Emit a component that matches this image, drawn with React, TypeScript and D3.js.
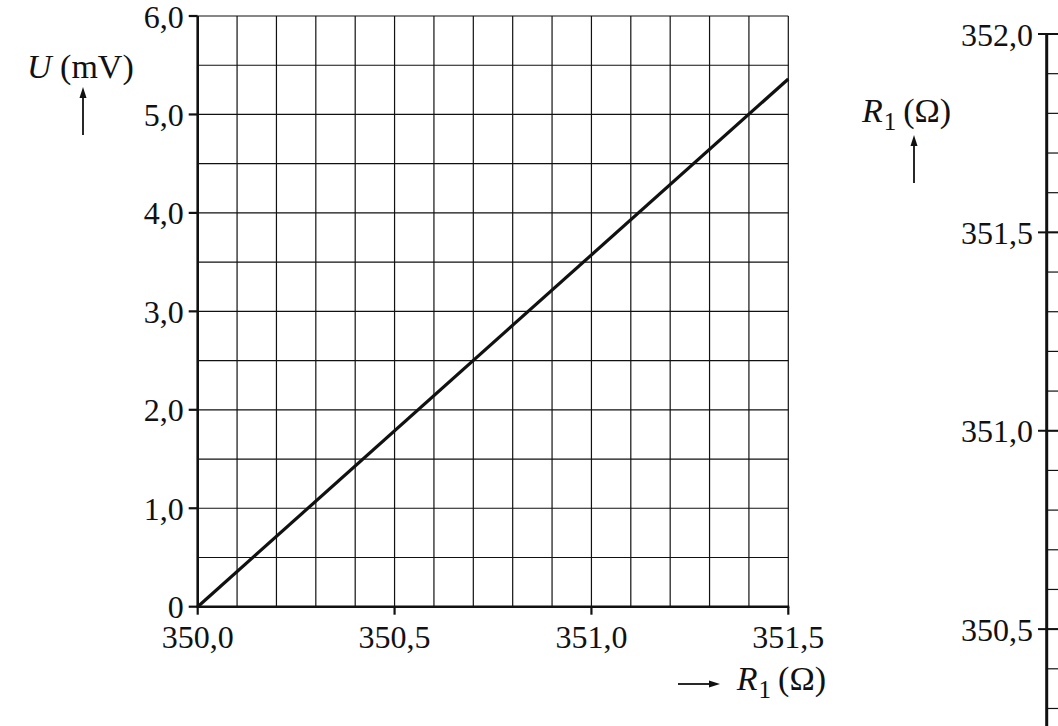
import React from 'react'
import * as d3 from 'd3'

// R1 (Ω) against U (mV): a straight calibration line
const resistance = [350.0, 351.5]
const voltage = [0, 5.36]

const xTicks = [350.0, 350.5, 351.0, 351.5]
const yTicks = [0, 1.0, 2.0, 3.0, 4.0, 5.0, 6.0]
const rightMajor = [350.5, 351.0, 351.5, 352.0]

const font = '"Liberation Serif", "Times New Roman", serif'
const fs = 32
const titleFs = 34
const comma = (v: number) => (v === 0 ? '0' : d3.format('.1f')(v).replace('.', ','))

const Arrow = ({ x1, y1, x2, y2 }: any) => {
    const a = Math.atan2(y2 - y1, x2 - x1)
    const len = 11, w = 3.5
    const bx = x2 - len * Math.cos(a), by = y2 - len * Math.sin(a)
    const px = -Math.sin(a) * w, py = Math.cos(a) * w
    return <g>
        <line x1={x1} y1={y1} x2={bx} y2={by} stroke="#111" strokeWidth={1.8} />
        <path d={`M${x2},${y2}L${bx + px},${by + py}L${bx - px},${by - py}Z`} fill="#111" />
    </g>
}

// R with subscript 1 and the unit
const R1 = ({ x, y, anchor }: any) =>
    <text x={x} y={y} textAnchor={anchor} fontSize={titleFs}>
        <tspan fontStyle="italic">R</tspan>
        <tspan fontSize={25} dx={1} dy={8}>1</tspan>
        <tspan dx={7} dy={-8}>(Ω)</tspan>
    </text>

export default function App() {
    const width = 1058, height = 726

    const x = d3.scaleLinear([350, 351.5], [197.7, 788.3])
    const y = d3.scaleLinear([0, 6], [606.7, 16])
    // right hand scale, runs on below the picture
    const r = d3.scaleLinear([350, 352], [827.5, 34])

    const vGrid = d3.range(0, 16).map(i => 350 + i * 0.1)
    const hGrid = d3.range(0, 13).map(i => i * 0.5)
    const rightMinor = d3.range(0, 21).map(i => 350 + i * 0.1)

    const line = d3.line<number>()
        .x(d => x(d))
        .y((d, i) => y(voltage[i]))

    const dy = 11.5

    return <svg width={width} height={height} style={{ position: 'absolute', left: 0, top: 0, background: '#fff' }}
        fontFamily={font} fontSize={fs} fill="#111">

        {/* grid */}
        {vGrid.map(v => <line key={'v' + v} x1={x(v)} x2={x(v)} y1={y(0)} y2={y(6)} stroke="#111" strokeWidth={1.2} />)}
        {hGrid.map(v => <line key={'h' + v} x1={x(350)} x2={x(351.5)} y1={y(v)} y2={y(v)} stroke="#111" strokeWidth={1.2} />)}

        {/* axes */}
        <line x1={x(350)} x2={x(350)} y1={y(0) + 1} y2={y(6)} stroke="#111" strokeWidth={2.6} />
        <line x1={x(350) - 1} x2={x(351.5) + 1} y1={y(0)} y2={y(0)} stroke="#111" strokeWidth={2.6} />

        {yTicks.map(v => <g key={'yt' + v}>
            <line x1={x(350) - 9} x2={x(350)} y1={y(v)} y2={y(v)} stroke="#111" strokeWidth={2.2} />
            <text x={x(350) - 14} y={y(v) + dy} textAnchor="end">{comma(v)}</text>
        </g>)}
        {xTicks.map(v => <g key={'xt' + v}>
            <line x1={x(v)} x2={x(v)} y1={y(0)} y2={y(0) + 8} stroke="#111" strokeWidth={2.2} />
            <text x={x(v)} y={648} textAnchor="middle">{comma(v)}</text>
        </g>)}

        {/* data line */}
        <path d={line(resistance) as string} fill="none" stroke="#111" strokeWidth={3.2} />

        {/* axis titles */}
        <text x={27} y={78} fontSize={titleFs}><tspan fontStyle="italic">U</tspan> (mV)</text>
        <Arrow x1={83} y1={135} x2={83} y2={87} />

        <Arrow x1={678} y1={684} x2={720} y2={684} />
        <R1 x={826} y={690} anchor="end" />

        {/* right hand scale */}
        <R1 x={862} y={122} anchor="start" />
        <Arrow x1={914} y1={183} x2={914} y2={135} />

        <line x1={1046.7} x2={1046.7} y1={r(352)} y2={height} stroke="#111" strokeWidth={3} />
        {rightMinor.map(v => <line key={'rm' + v} x1={1046.7} x2={1060} y1={r(v)} y2={r(v)} stroke="#111" strokeWidth={1.2} />)}
        {rightMajor.map(v => <g key={'rM' + v}>
            <line x1={1038} x2={1060} y1={r(v)} y2={r(v)} stroke="#111" strokeWidth={2} />
            <text x={1033} y={r(v) + dy} textAnchor="end">{comma(v)}</text>
        </g>)}
    </svg>
}
